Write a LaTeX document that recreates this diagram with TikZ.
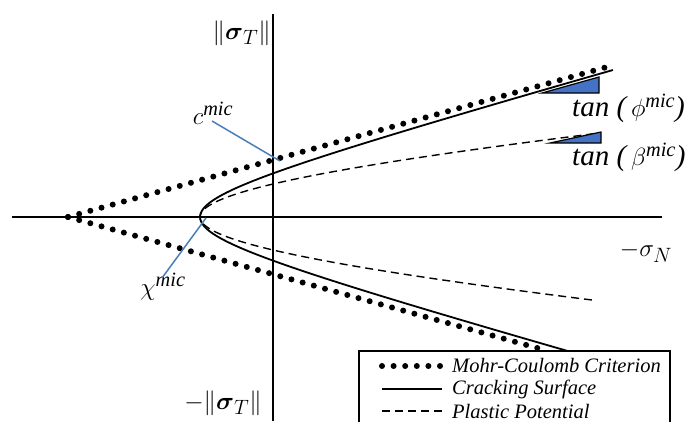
\documentclass[tikz,border=0pt]{standalone}
\usepackage{amsmath,amssymb}
\usepackage{fontspec}
\setmainfont{Liberation Serif}
\usepackage{tikz}
\usetikzlibrary{calc}
\definecolor{leadblue}{RGB}{74,126,187}
\definecolor{triblue}{RGB}{68,114,196}
\tikzset{
  axisline/.style ={draw=black, line width=2pt},
  mcline/.style   ={draw=black, line width=6pt, line cap=round,
                    dash pattern=on 0pt off 11.6pt},
  crackline/.style={draw=black, line width=1.8pt},
  potline/.style  ={draw=black, line width=1.4pt, dash pattern=on 8pt off 5pt},
  leader/.style   ={draw=leadblue, line width=1.5pt},
  slopetri/.style ={draw=black, fill=triblue, line width=1.2pt},
  biglab/.style   ={font=\fontsize{29}{32}\selectfont, inner sep=0pt},
  leglab/.style   ={font=\fontsize{20.5}{22}\selectfont\itshape, anchor=west, inner sep=0pt},
}

\begin{document}
\begin{tikzpicture}[x=1pt,y=-1pt]
\useasboundingbox (0,0) rectangle (688,421);

% ---------- axes ----------
\coordinate (hl) at (12,217);
\coordinate (hr) at (662,217);
\coordinate (vt) at (273,14);
\coordinate (vb) at (273,421);
\draw[axisline] (hl) -- (hr);
\draw[axisline] (vt) -- (vb);
\node[biglab,anchor=east] (sigT) at (271,33) {$\|\boldsymbol{\sigma}_T\|$};
\node[biglab,anchor=east] (msigT) at (262,403) {$-\|\boldsymbol{\sigma}_T\|$};
\node[biglab] (sigN) at (646,252) {$-\sigma_N$};

% ---------- Mohr-Coulomb cone ----------
\coordinate (apex) at (68,217);
\coordinate (mcup) at (607,67);
\coordinate (mclo) at (548,351);
\draw[mcline] (apex) -- (mcup);
\draw[mcline] (apex) -- (mclo);

% ---------- cracking surface and plastic potential ----------
\draw[crackline] plot[smooth,domain=-136:147,samples=90,variable=\t]
  ({68+132*sqrt(1+(\t/36.7)^2)},{217-\t});
\draw[potline] plot[smooth,domain=-83:84,samples=70,variable=\t]
  ({-659+859*sqrt(1+(\t/78.4)^2)},{217-\t});

% ---------- slopes ----------
\draw[slopetri] (542,93) -- (599,93) -- (599,77) -- cycle;
\draw[slopetri] (550,143) -- (601,143) -- (601,132) -- cycle;
\node[biglab,anchor=west] (tanphi) at (572,108)
  {\itshape tan (\,$\phi^{\text{\itshape mic}}$)};
\node[biglab,anchor=west] (tanbeta) at (572,157)
  {\itshape tan (\,$\beta^{\text{\itshape mic}}$)};

% ---------- cohesion and apex labels ----------
\node[biglab] (cmic) at (213,113) {$c^{\text{\itshape mic}}$};
\node[biglab] (chimic) at (163,287) {$\chi^{\text{\itshape mic}}$};
\coordinate (cfoot) at (212,121);
\coordinate (cpt) at (280,161);
\coordinate (chifoot) at (162,278);
\coordinate (chipt) at (206,218);
\draw[leader] (cfoot) -- (cpt);
\draw[leader] (chifoot) -- (chipt);

% ---------- legend ----------
\draw[line width=1.5pt,fill=white] (359,351) rectangle (670,440);
\foreach \sty/\lab/\yy [count=\i] in {mcline/Mohr-Coulomb Criterion/366,
                                     crackline/Cracking Surface/389,
                                     potline/Plastic Potential/411}{
  \coordinate (legs\i) at (382,\yy);
  \coordinate (lege\i) at (442,\yy);
  \draw[\sty] (legs\i) -- (lege\i);
  \node[leglab] (leg\i) at (452,\yy) {\lab};
}
\end{tikzpicture}
\end{document}
